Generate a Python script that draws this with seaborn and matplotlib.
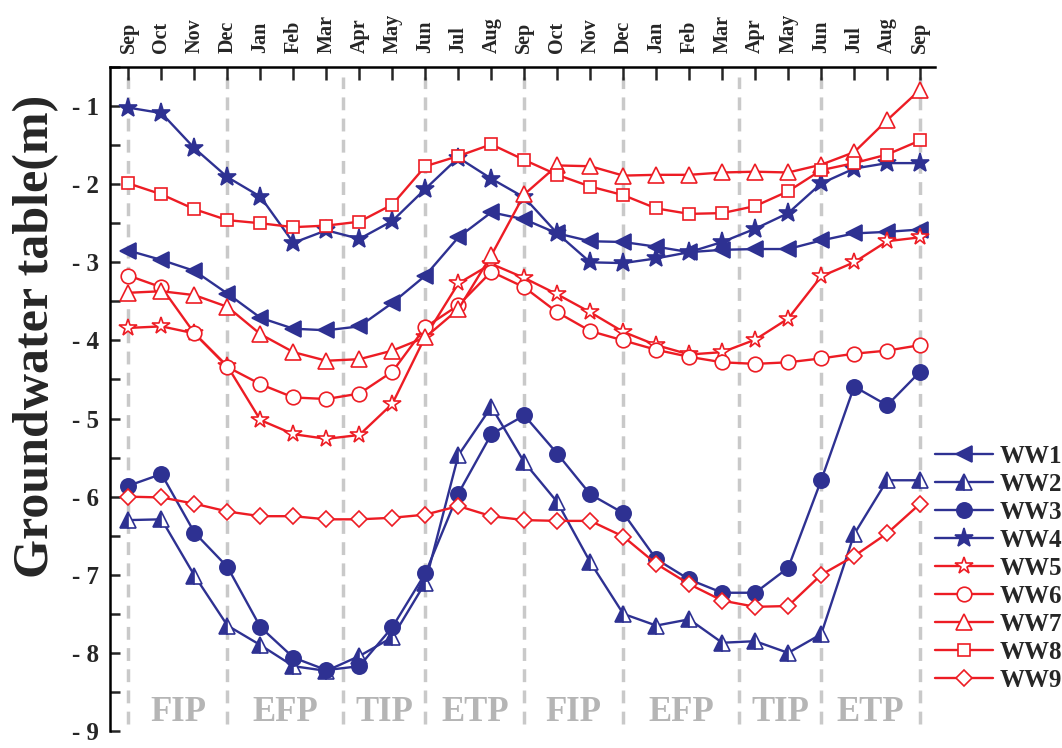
import numpy as np
import pandas as pd
import matplotlib
matplotlib.use("Agg")
import matplotlib.pyplot as plt
import seaborn as sns
from matplotlib.ticker import MultipleLocator, FixedLocator

# ---------------- data ----------------
months = ["Sep", "Oct", "Nov", "Dec", "Jan", "Feb", "Mar", "Apr", "May", "Jun", "Jul", "Aug",
          "Sep", "Oct", "Nov", "Dec", "Jan", "Feb", "Mar", "Apr", "May", "Jun", "Jul", "Aug", "Sep"]

ww1 = [-2.85, -2.97, -3.11, -3.40, -3.71, -3.85, -3.87, -3.82, -3.52, -3.17, -2.68, -2.36, -2.45,
       -2.63, -2.73, -2.74, -2.80, -2.87, -2.84, -2.83, -2.83, -2.72, -2.63, -2.61, -2.58]
ww2 = [-6.30, -6.29, -7.01, -7.65, -7.90, -8.17, -8.23, -8.04, -7.80, -7.10, -5.47, -4.85, -5.56,
       -6.07, -6.84, -7.50, -7.65, -7.57, -7.87, -7.85, -8.00, -7.76, -6.48, -5.79, -5.79]
ww3 = [-5.86, -5.71, -6.46, -6.90, -7.67, -8.06, -8.22, -8.17, -7.67, -6.98, -5.96, -5.20, -4.96,
       -5.45, -5.97, -6.21, -6.80, -7.06, -7.23, -7.23, -6.91, -5.79, -4.59, -4.83, -4.40]
ww4 = [-1.02, -1.09, -1.54, -1.91, -2.16, -2.75, -2.59, -2.70, -2.47, -2.06, -1.66, -1.93, -2.17,
       -2.63, -3.00, -3.01, -2.95, -2.87, -2.74, -2.57, -2.37, -1.99, -1.80, -1.73, -1.73]
ww5 = [-3.84, -3.82, -3.91, -4.33, -5.02, -5.20, -5.26, -5.21, -4.81, -3.95, -3.27, -3.02, -3.20,
       -3.41, -3.64, -3.89, -4.06, -4.18, -4.15, -3.99, -3.72, -3.18, -3.00, -2.73, -2.68]
ww6 = [-3.17, -3.32, -3.91, -4.34, -4.56, -4.73, -4.75, -4.68, -4.40, -3.83, -3.55, -3.12, -3.32,
       -3.64, -3.88, -4.00, -4.12, -4.21, -4.28, -4.30, -4.28, -4.23, -4.17, -4.13, -4.06]
ww7 = [-3.39, -3.37, -3.42, -3.57, -3.92, -4.15, -4.26, -4.24, -4.13, -3.96, -3.60, -2.91, -2.13,
       -1.76, -1.77, -1.89, -1.88, -1.88, -1.85, -1.84, -1.85, -1.75, -1.59, -1.18, -0.79]
ww8 = [-1.99, -2.13, -2.32, -2.46, -2.50, -2.55, -2.53, -2.48, -2.26, -1.77, -1.64, -1.49, -1.69,
       -1.88, -2.03, -2.14, -2.31, -2.38, -2.37, -2.28, -2.09, -1.82, -1.73, -1.62, -1.44]
ww9 = [-6.00, -6.01, -6.09, -6.19, -6.25, -6.25, -6.29, -6.29, -6.27, -6.23, -6.12, -6.25, -6.30,
       -6.31, -6.31, -6.51, -6.86, -7.12, -7.33, -7.41, -7.40, -7.00, -6.76, -6.47, -6.09]

series_names = ["WW1", "WW2", "WW3", "WW4", "WW5", "WW6", "WW7", "WW8", "WW9"]
series_values = [ww1, ww2, ww3, ww4, ww5, ww6, ww7, ww8, ww9]

period_names = ["FIP", "EFP", "TIP", "ETP", "FIP", "EFP", "TIP", "ETP"]
period_bounds = [0, 3, 6.5, 9, 12, 15, 18.5, 21, 24]

ytick_values = [-9, -8, -7, -6, -5, -4, -3, -2, -1]
ytick_labels = ["- 9", "- 8", "- 7", "- 6", "- 5", "- 4", "- 3", "- 2", "- 1"]

# ---------------- style ----------------
BLUE = "#2e3192"
RED = "#ed1c24"
styles = {
    "WW1": dict(color=BLUE, marker="<", markersize=11, markerfacecolor=BLUE),
    "WW2": dict(color=BLUE, marker="^", markersize=11, markerfacecolor=BLUE,
                fillstyle="left", markerfacecoloralt="white"),
    "WW3": dict(color=BLUE, marker="o", markersize=11, markerfacecolor=BLUE),
    "WW4": dict(color=BLUE, marker="*", markersize=14, markerfacecolor=BLUE),
    "WW5": dict(color=RED, marker="*", markersize=13, markerfacecolor="white"),
    "WW6": dict(color=RED, marker="o", markersize=10.5, markerfacecolor="white"),
    "WW7": dict(color=RED, marker="^", markersize=11, markerfacecolor="white"),
    "WW8": dict(color=RED, marker="s", markersize=9, markerfacecolor="white"),
    "WW9": dict(color=RED, marker="D", markersize=8.5, markerfacecolor="white"),
}

sns.set_style("ticks")
plt.rcParams["font.family"] = ["Liberation Serif", "DejaVu Serif"]
plt.rcParams["font.weight"] = "bold"

fig = plt.figure(figsize=(10.62, 7.48), dpi=100)
ax = fig.add_axes([0.1036, 0.0227, 0.7768, 0.8877])

x_idx = np.arange(len(months))

# period separators
for b in period_bounds:
    ax.axvline(b, color="#c9c9c9", lw=2.5, ls=(0, (3.7, 2.4)), zorder=0, ymin=0.01, ymax=0.985)

df = pd.DataFrame({"idx": x_idx})
for name, vals in zip(series_names, series_values):
    df[name] = vals

for name in series_names:
    st = styles[name]
    sns.lineplot(data=df, x="idx", y=name, ax=ax, label=name, linewidth=1.7,
                 markeredgecolor=st["color"], markeredgewidth=1.2, errorbar=None,
                 zorder=3, **st)

# period labels
for i, pname in enumerate(period_names):
    cx = (period_bounds[i] + period_bounds[i + 1]) / 2
    ax.text(cx, -8.76, pname, ha="center", va="center", fontsize=25,
            color="#b5b5b5", fontweight="bold", zorder=1)

ax.set_xlim(-0.56, 24.45)
ax.set_ylim(-9, -0.5)

ax.xaxis.set_major_locator(FixedLocator(x_idx))
ax.set_xticks(x_idx)
ax.set_xticklabels(months, rotation=90, fontsize=14.5, fontweight="bold")
ax.tick_params(axis="x", which="both", top=True, labeltop=True, bottom=False,
               labelbottom=False, direction="in", length=9, width=1.8, pad=10)

ax.set_yticks(ytick_values)
ax.set_yticklabels(ytick_labels, fontsize=18, fontweight="bold")
ax.yaxis.set_minor_locator(MultipleLocator(0.5))
ax.tick_params(axis="y", which="both", direction="in", length=7, width=1.8, pad=8,
               right=False)

for side in ["bottom", "right"]:
    ax.spines[side].set_visible(False)
for side in ["left", "top"]:
    ax.spines[side].set_linewidth(1.8)
    ax.spines[side].set_color("black")

ax.set_xlabel("")
ax.set_ylabel("Groundwater table(m)", fontsize=36, fontweight="bold")
ax.yaxis.set_label_coords(-0.062, 0.595)

handles, labels = ax.get_legend_handles_labels()
leg = ax.legend(handles, labels, loc="upper left", bbox_to_anchor=(0.8805, 0.405),
                bbox_transform=fig.transFigure, frameon=False, fontsize=18,
                borderaxespad=0, borderpad=0, handlelength=2.3, handletextpad=0.3,
                labelspacing=0.2)
for t in leg.get_texts():
    t.set_fontweight("bold")

fig.savefig("out.png", dpi=100, facecolor="white")
